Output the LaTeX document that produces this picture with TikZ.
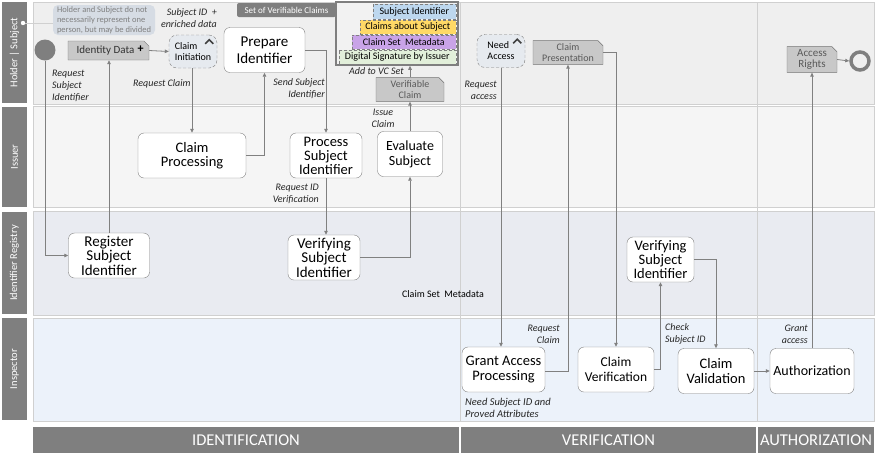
\documentclass[tikz,border=0pt]{standalone}
\usepackage{fontspec}
\setmainfont{Carlito}
\usepackage{xcolor}
\usepackage{tikz}
\usetikzlibrary{arrows.meta,positioning,shapes.misc}
\definecolor{barcol}{HTML}{7F7F7F}
\definecolor{linecol}{HTML}{808080}
\definecolor{lanecol}{HTML}{D0D0D0}
\definecolor{laneA}{HTML}{EFEFEF}
\definecolor{laneB}{HTML}{F5F5F5}
\definecolor{laneC}{HTML}{E9EBF1}
\definecolor{laneD}{HTML}{ECF2FA}
\definecolor{eventcol}{HTML}{E6EAEF}
\definecolor{datacol}{HTML}{C8C8C8}
\definecolor{notecol}{HTML}{D6DCE4}
\definecolor{subjcol}{HTML}{BDD7EE}
\definecolor{claimcol}{HTML}{FFD966}
\definecolor{metacol}{HTML}{C9A3E8}
\definecolor{sigcol}{HTML}{E2EFDA}

\begin{document}
\begin{tikzpicture}[x=1pt, y=-1pt,
    lanebar/.style={fill=barcol, text=white, rotate=90, minimum height=25,
                    inner sep=0pt, font=\fontsize{10.5}{12}\selectfont},
    phase/.style={fill=barcol, text=white, minimum height=26, inner sep=0pt,
                  font=\fontsize{16.5}{18}\selectfont},
    task/.style={draw=gray, fill=white, rounded corners=6pt, align=center,
                 minimum height=45, inner sep=1pt, font=\fontsize{14.5}{14}\selectfont},
    event/.style={draw=gray, densely dashed, fill=eventcol, rounded corners=8pt,
                  minimum width=48, minimum height=33, align=left, inner sep=0pt,
                  font=\fontsize{10}{11}\selectfont},
    dataobj/.style={chamfered rectangle, chamfered rectangle corners=north east,
                    chamfered rectangle xsep=2pt, draw=gray!90!black, fill=datacol,
                    minimum height=19, inner sep=0pt, align=center, text=black!65,
                    font=\fontsize{10}{10.5}\selectfont},
    claimbox/.style={draw=gray, densely dashed, anchor=east, minimum height=14.5,
                     inner sep=0pt, font=\fontsize{10}{11}\selectfont},
    lbl/.style={inner sep=0pt, text=black!85, font=\itshape\fontsize{10}{12}\selectfont},
    arr/.style={-{Triangle[length=4pt,width=3.5pt]}, draw=linecol, line width=0.8pt},
    marker/.style={draw=black!75, line width=1.6pt}]
  \useasboundingbox (0,0) rectangle (884,459);

  \filldraw[fill=laneA, draw=lanecol] (33,2) rectangle (874,104);
  \filldraw[fill=laneB, draw=lanecol] (33,106) rectangle (874,207);
  \filldraw[fill=laneC, draw=lanecol] (33,211) rectangle (874,315);
  \filldraw[fill=laneD, draw=lanecol] (33,318) rectangle (874,421);
  \draw[lanecol, line width=1pt] (460,2) -- (460,421);
  \draw[lanecol, line width=1pt] (757,2) -- (757,421);

  \node[lanebar, minimum width=101] (holder) at (14.5,52.5) {Holder | Subject};
  \node[lanebar, minimum width=100] (issuer) at (14.5,157) {Issuer};
  \node[lanebar, minimum width=102] (registry) at (14.5,263) {Identifier Registry};
  \node[lanebar, minimum width=102] (inspector) at (14.5,369) {Inspector};

  \node[phase, minimum width=426] (identph) at (246,440) {IDENTIFICATION};
  \node[phase, minimum width=295] (verph) at (608.5,440) {VERIFICATION};
  \node[phase, minimum width=116] (authph) at (816,440) {AUTHORIZATION};

  \node[fill=notecol, rounded corners=5pt, minimum width=102, minimum height=30,
        align=left, inner sep=0pt, text=black!50, font=\fontsize{8.5}{10}\selectfont]
    (note) at (104,20) {Holder and Subject do not\\necessarily represent one\\person, but may be divided};
  \coordinate (notedot) at (23,23);
  \draw[lanecol, line width=0.8pt] (notedot) -- (notedot -| note.west);
  \fill[white] (notedot) circle (2.2pt);

  \node[circle, fill=barcol, minimum size=21, inner sep=0pt] (start) at (45,50) {};
  \node[dataobj, minimum width=81, text=black!80, font=\fontsize{11}{12}\selectfont]
    (iddata) at (108.5,50.5) {Identity Data\hspace{6pt}};
  \node[inner sep=0pt, font=\bfseries\fontsize{12}{12}\selectfont] (plus) at ([shift={(-6,6)}]iddata.north east) {+};
  \node[event] (ci) at (193,51.5) {Claim\\Initiation\hspace{10pt}};
  \draw[marker] ([shift={(-12,9)}]ci.north east) -- ++(4,-4) -- ++(4,4);
  \node[task, minimum width=81, font=\fontsize{15}{17}\selectfont] (prep) at (264.5,50) {Prepare\\Identifier};

  \node[fill=barcol, text=white, rounded corners=2pt, minimum width=99, minimum height=14,
        inner sep=0pt, font=\fontsize{9}{10}\selectfont] (settab) at (286.5,10) {Set of Verifiable Claims};
  \node[draw=barcol, line width=1.5pt, fill=white!95!black, minimum width=122,
        minimum height=63, inner sep=0pt] (vcset) at (397,33.5) {};
  \node[claimbox, fill=subjcol, minimum width=83] (csubj) at (456,11.5) {Subject Identifier};
  \node[claimbox, fill=claimcol, minimum width=96] (cabout) at (456,27) {Claims about Subject};
  \node[claimbox, fill=metacol, minimum width=104] (cmeta) at (456,42) {Claim Set\ \ Metadata};
  \node[claimbox, fill=sigcol, minimum width=117] (csig) at (456,57) {Digital Signature by Issuer};
  \node[dataobj, minimum width=68, minimum height=21] (vc) at (410,89.5) {Verifiable\\Claim};

  \node[event] (needacc) at (501,51) {Need\\Access\hspace{10pt}};
  \draw[marker] ([shift={(-12,9)}]needacc.north east) -- ++(4,-4) -- ++(4,4);
  \node[dataobj, minimum width=70] (claimpres) at (568,52.5) {Claim\\Presentation};
  \node[dataobj, minimum width=50, font=\fontsize{11}{10.5}\selectfont] (rights) at (812,59.5) {Access\\Rights};
  \node[circle, draw=barcol, line width=3.5pt, minimum size=18, inner sep=0pt] (end) at (860,61) {};

  \node[task, minimum width=108] (cproc) at (192,155.5) {Claim\\Processing};
  \node[task, minimum width=72] (procsid) at (326,155.5) {Process\\Subject\\Identifier};
  \node[task, minimum width=65, font=\fontsize{14}{15}\selectfont] (evalsub) at (410,154) {Evaluate\\Subject};

  \node[task, minimum width=81, font=\fontsize{15}{14.5}\selectfont] (regsid) at (109,255.5) {Register\\Subject\\Identifier};
  \node[task, minimum width=72, font=\fontsize{15}{14.5}\selectfont] (versid) at (324,257.5) {Verifying\\Subject\\Identifier};
  \node[task, minimum width=67] (versidb) at (660.5,259.5) {Verifying\\Subject\\Identifier};

  \node[task, minimum width=83, font=\fontsize{14.5}{15.5}\selectfont] (grant) at (503.5,369.5) {Grant Access\\Processing};
  \node[task, minimum width=76, font=\fontsize{13.5}{15}\selectfont] (cverif) at (616,369.5) {Claim\\Verification};
  \node[task, minimum width=76, font=\fontsize{14.5}{15.5}\selectfont] (cvalid) at (716,371) {Claim\\Validation};
  \node[task, minimum width=84, font=\fontsize{14}{15}\selectfont] (authz) at (812,371) {Authorization};

  \node[lbl, anchor=east, align=right] (lsubid) at (217,18) {Subject ID\ \ +\\enriched data};
  \node[lbl, anchor=west, align=left] (lreqsub) at (52,86) {Request\\Subject\\Identifier};
  \node[lbl, anchor=west] (lreqclaim) at (133,84) {Request Claim};
  \node[lbl, anchor=east, align=right] (lsend) at (325,89) {Send Subject\\Identifier};
  \node[lbl, anchor=east] (ladd) at (404,71) {Add to VC Set};
  \node[lbl, align=center] (lissue) at (383,118) {Issue\\Claim};
  \node[lbl, anchor=east, align=right] (lreqid) at (319,194) {Request ID\\Verification};
  \node[lbl, anchor=east, align=right] (lreqacc) at (497,90) {Request\\access};
  \node[inner sep=0pt, font=\fontsize{10}{11}\selectfont] (lmeta) at (443,294) {Claim Set\ \ Metadata};
  \node[lbl, anchor=east, align=right] (lreqcl) at (560,334) {Request\\Claim};
  \node[lbl, anchor=west, align=left] (lcheck) at (665,334) {Check\\Subject ID};
  \node[lbl, anchor=east, align=right] (lgrant) at (808,334) {Grant\\access};
  \node[lbl, anchor=north west, align=left, font=\itshape\fontsize{10.5}{12}\selectfont] (lneed) at (465,398) {Need Subject ID and\\Proved Attributes};

  \draw[arr] (start.south) |- (regsid.west);
  \draw[arr] (regsid.north) -- (regsid.north |- iddata.south);
  \draw[arr] (iddata.east) -- (ci.west);
  \draw[arr] (ci.south -| cproc.north) -- (cproc.north);
  \draw[arr] (cproc.east) -| (prep.south);
  \draw[arr] (prep.east) -| (procsid.north);
  \draw[arr] (procsid.south) -- (procsid.south |- versid.north);
  \draw[arr] (versid.east) -| (evalsub.south);
  \draw[arr] (evalsub.north) -- (vc.south);
  \draw[arr] (vc.north) -- (vc.north |- vcset.south);
  \draw[arr] (needacc.south) -- (needacc.south |- grant.north);
  \draw[arr] ([yshift=-2]grant.east) -| (claimpres.south);
  \draw[arr] (claimpres.east) -| (cverif.north);
  \draw[arr] (cverif.east) -| (versidb.south);
  \draw[arr] (versidb.east) -| (cvalid.north);
  \draw[arr] (cvalid.east) -- (authz.west);
  \draw[arr] (authz.north) -- (rights.south);
  \draw[arr] (rights.east) -- (end.west);
\end{tikzpicture}
\end{document}
